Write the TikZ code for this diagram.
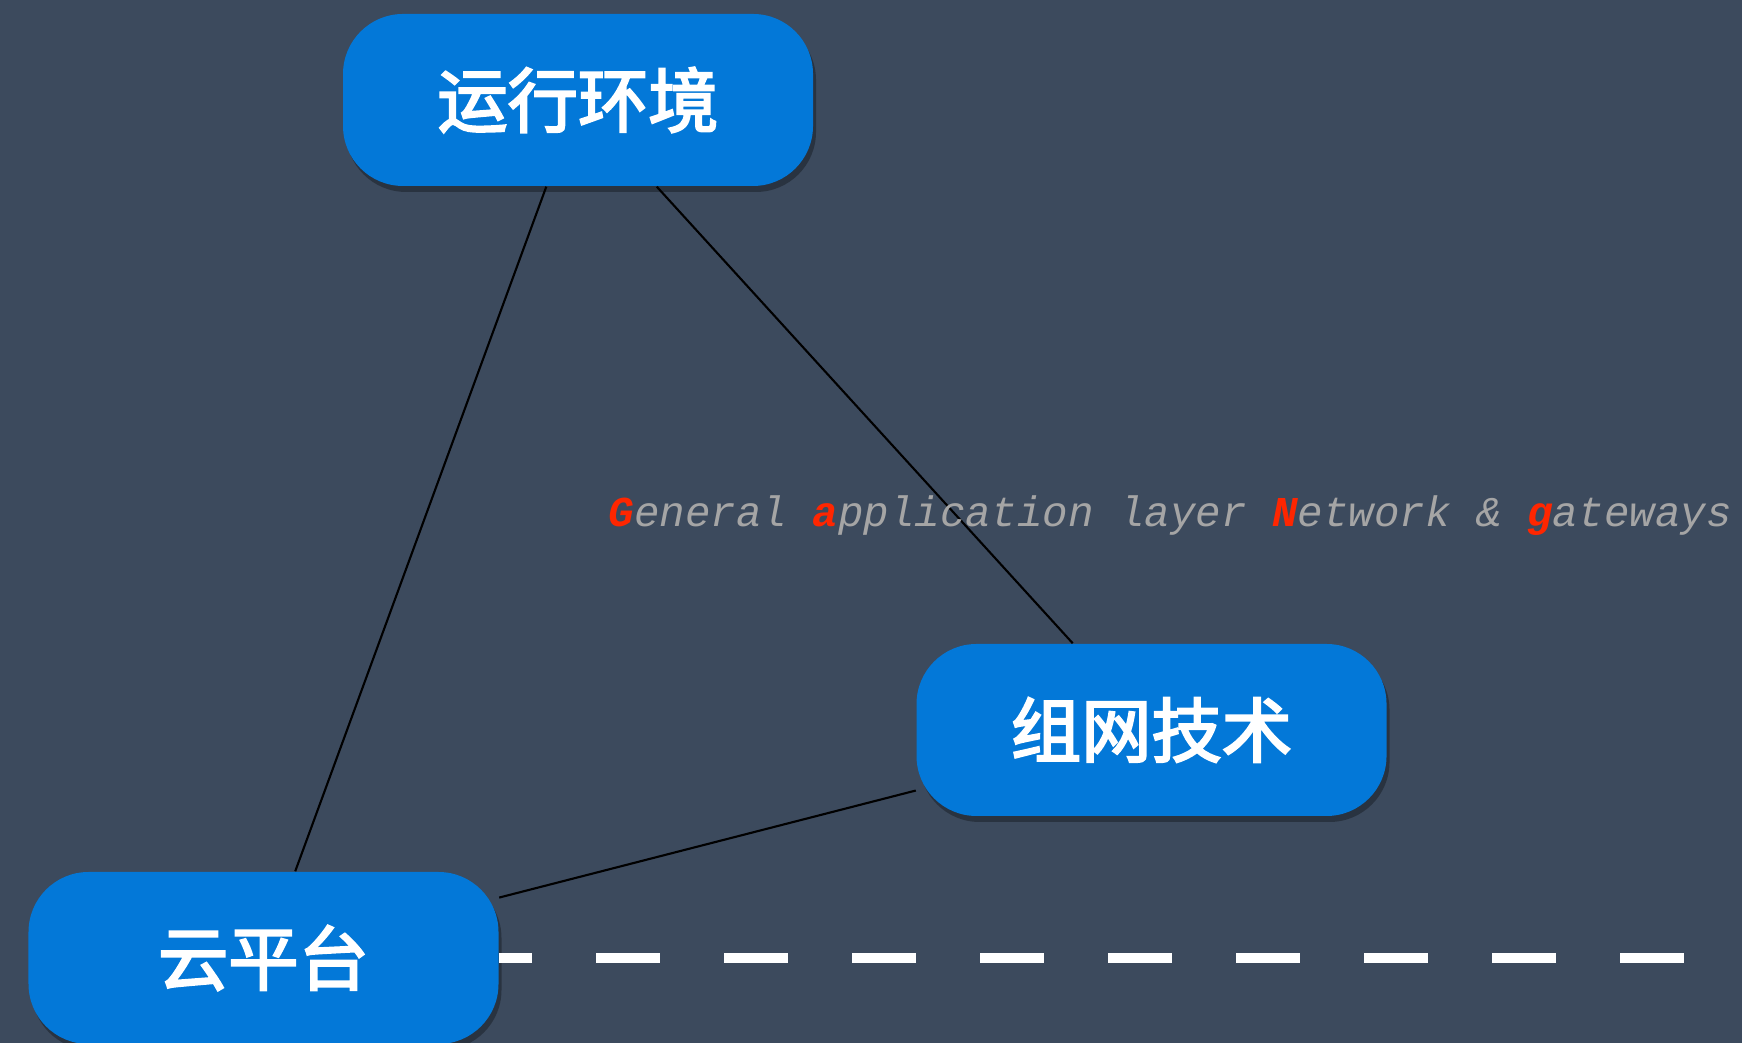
\documentclass[tikz,border=0pt]{standalone}
\usepackage{fontspec}
\setmonofont{Liberation Mono}
\newfontfamily\cjk{Noto Sans CJK SC}[FakeBold=3]
\usetikzlibrary{shadows}
\definecolor{slate}{HTML}{3C4A5D}
\definecolor{azure}{HTML}{0378D8}
\definecolor{hint}{HTML}{A5A5A5}
\definecolor{flame}{HTML}{FF2600}
\newcommand{\hl}[1]{\textcolor{flame}{\textbf{#1}}}

\begin{document}
\begin{tikzpicture}[
 box/.style={fill=azure,rounded corners=6mm,minimum width=47mm,minimum height=17.2mm,
 text=white,font=\cjk\fontsize{20}{24}\selectfont,
 drop shadow={shadow xshift=0.3mm,shadow yshift=-0.6mm,fill=black,opacity=0.3}},
 link/.style={draw=black,line width=0.6pt}]
\fill[slate] (0,0) rectangle (17.42,10.43);
\useasboundingbox (0,0) rectangle (17.42,10.43);
\node[box] (a) at (5.78,9.43) {运行环境};
\node[box] (b) at (11.515,3.13) {组网技术};
\node[box] (c) at (2.635,0.85) {云平台};
\coordinate (e) at (16.835,0.85);
\draw[link] (a)--(c); \draw[link] (a)--(b); \draw[link] (b)--(c);
\draw[white,line width=3.1pt,dash pattern=on 6.4mm off 6.4mm,dash phase=3.1mm] (c.east)--(e);
\node[anchor=base west,inner sep=0,text=hint,font=\ttfamily\itshape\fontsize{12.1}{14}\selectfont] (t) at (6.08,5.16)
 {\hl{G}eneral \hl{a}pplication layer \hl{N}etwork \& \hl{g}ateways};
\end{tikzpicture}
\end{document}
